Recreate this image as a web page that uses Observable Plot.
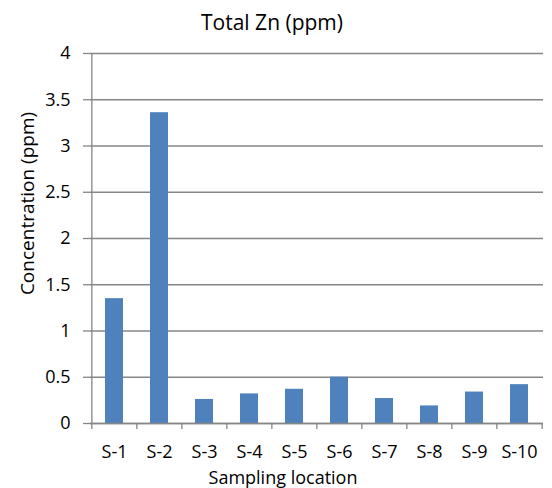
<!DOCTYPE html>
<html>
<head>
<meta charset="utf-8">
<script src="https://cdn.jsdelivr.net/npm/d3@7"></script>
<script src="https://cdn.jsdelivr.net/npm/@observablehq/plot@0.6"></script>
<style>
  html, body { margin: 0; padding: 0; background: #fff; }
  #title { width: 552px; height: 38px; text-align: center; font-family: "Open Sans", sans-serif; font-size: 21px; line-height: 44px; color: #000; }
</style>
</head>
<body>
<div id="title"><span style="position:relative;left:-4px">Total Zn (ppm)</span></div>
<div id="chart"></div>
<script>
const categories = ["S-1", "S-2", "S-3", "S-4", "S-5", "S-6", "S-7", "S-8", "S-9", "S-10"];
const values = [1.35, 3.36, 0.26, 0.32, 0.37, 0.50, 0.27, 0.19, 0.34, 0.42];
const yTicks = [0, 0.5, 1, 1.5, 2, 2.5, 3, 3.5, 4];

const data = categories.map((c, i) => ({ site: c, value: values[i] }));

const W = 552, H = 450, mL = 90, mR = 9, mT = 15, mB = 65;
const bw = (W - mL - mR) / categories.length;
const plotH = H - mT - mB;
const gray = "#868686";

const chart = Plot.plot({
  width: W,
  height: H,
  marginLeft: mL,
  marginRight: mR,
  marginTop: mT,
  marginBottom: mB,
  style: { fontFamily: "'Open Sans', sans-serif", fontSize: "18px", color: "#000", background: "#fff" },
  x: { domain: categories, paddingInner: 0.59, paddingOuter: 0.295, label: null },
  y: { domain: [0, 4], label: null },
  marks: [
    Plot.gridY(yTicks, { stroke: gray, strokeOpacity: 1, strokeWidth: 1.3 }),
    Plot.axisY(yTicks, { tickSize: 7, stroke: gray, strokeWidth: 1.3, tickPadding: 13, tickFormat: d => String(d), fontSize: 18, label: null }),
    Plot.barY(data, { x: "site", y: "value", fill: "#4f81bd" }),
    Plot.ruleY([0], { stroke: gray, strokeWidth: 1.3 }),
    Plot.ruleX([categories[0]], { x: d => d, y1: 0, y2: 4, dx: -bw / 2, stroke: gray, strokeWidth: 1.3 }),
    Plot.ruleX(categories, { x: d => d, dx: -bw / 2, insetTop: plotH, insetBottom: -6, stroke: gray, strokeWidth: 1.3 }),
    Plot.ruleX([categories[categories.length - 1]], { x: d => d, dx: bw / 2, insetTop: plotH, insetBottom: -6, stroke: gray, strokeWidth: 1.3 }),
    Plot.axisX({ tickSize: 0, tickPadding: 22, fontSize: 18, label: null }),
    Plot.text(["Sampling location"], { frameAnchor: "bottom", textAnchor: "middle", lineAnchor: "bottom", dx: -34, dy: 60, fontSize: 18 }),
    Plot.text(["Concentration (ppm)"], { frameAnchor: "left", textAnchor: "middle", lineAnchor: "middle", dx: -63, dy: -35, rotate: -90, fontSize: 19 })
  ]
});
document.getElementById("chart").appendChild(chart);
</script>
</body>
</html>
